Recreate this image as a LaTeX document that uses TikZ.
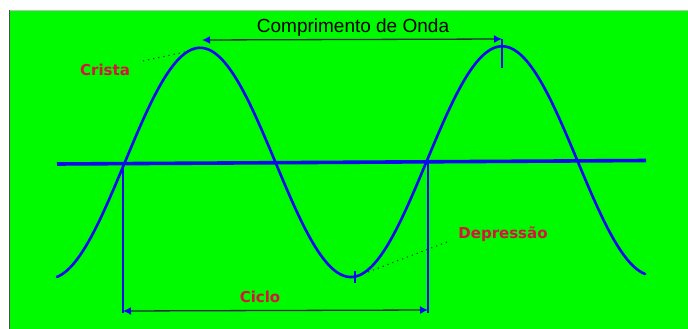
\documentclass[tikz,border=0pt]{standalone}
\usepackage{fontspec}
\setmainfont{DejaVu Sans}
\newfontfamily\titlefont{Liberation Sans}
\usetikzlibrary{arrows.meta}
\definecolor{bggreen}{RGB}{0,250,0}
\definecolor{wblue}{RGB}{10,10,240}
\definecolor{lred}{RGB}{215,20,60}
\definecolor{lineink}{RGB}{40,40,60}
\tikzset{
  wave/.style={wblue, line width=2.6pt, line join=round, line cap=round},
  axisline/.style={wblue, line width=3.6pt},
  guide/.style={wblue, line width=1.8pt},
  dimarrow/.style={lineink, line width=1.3pt, {Latex[wblue,length=8pt,width=8pt]}-{Latex[wblue,length=8pt,width=8pt]}},
  pointer/.style={lineink, line width=1pt, dash pattern=on 1.2pt off 4pt},
  redlabel/.style={text=lred, font=\bfseries\fontsize{15}{18}\selectfont, inner sep=0pt},
  toplabel/.style={text=black, font=\titlefont\fontsize{19}{22}\selectfont, inner sep=0pt}
}
\begin{document}
\begin{tikzpicture}[x=1pt,y=-1pt]
\useasboundingbox (0,0) rectangle (688,329);
\fill[white] (0,0) rectangle (688,329);
\fill[bggreen] (10,10) rectangle (688,329);
\draw[gray!60!black, line width=1.5pt] (9.5,10) -- (9.5,329);
\draw[gray!50, line width=0.6pt] (10,10) -- (688,10);

% coordinates
\coordinate (axL) at (57,164);
\coordinate (axR) at (646,160.5);
\coordinate (crestL) at (202,40);
\coordinate (crestR) at (502,39);
\coordinate (crestRb) at (502,68);
\coordinate (trough) at (355,271);
\coordinate (troughb) at (355,283);
\coordinate (v1top) at (123,164);
\coordinate (v1bot) at (123,313);
\coordinate (v2top) at (428,160);
\coordinate (v2bot) at (428,313);
\coordinate (c1) at (123,311);
\coordinate (c2) at (428,310);

% axis
\draw[axisline] (axL) -- (axR);
% wave
\draw[wave] plot[domain=57:645, samples=240, variable=\x]
  (\x, {163.5-0.005*(\x-57) - 115*cos(1.19205*(\x-200))});

% guides
\draw[guide] (v1top) -- (v1bot);
\draw[guide] (v2top) -- (v2bot);
\draw[guide] (crestR) -- (crestRb);
\draw[wblue, line width=2.2pt] (trough) -- (troughb);

% dimension arrows
\draw[dimarrow] (crestL) -- (crestR);
\draw[dimarrow] (c1) -- (c2);

% labels
\node[toplabel] (onda) at (353,28) {Comprimento de Onda};
\node[redlabel] (crista) at (105,70) {Crista};
\node[redlabel] (depr) at (503,234) {Depressão};
\node[redlabel] (ciclo) at (260,297) {Ciclo};

% pointers
\coordinate (pc1) at (143,61);
\coordinate (pc2) at (194,50);
\draw[pointer] (pc1) -- (pc2);
\coordinate (pd1) at (368,272);
\coordinate (pd2) at (447,242);
\draw[pointer] (pd1) -- (pd2);
\end{tikzpicture}
\end{document}
